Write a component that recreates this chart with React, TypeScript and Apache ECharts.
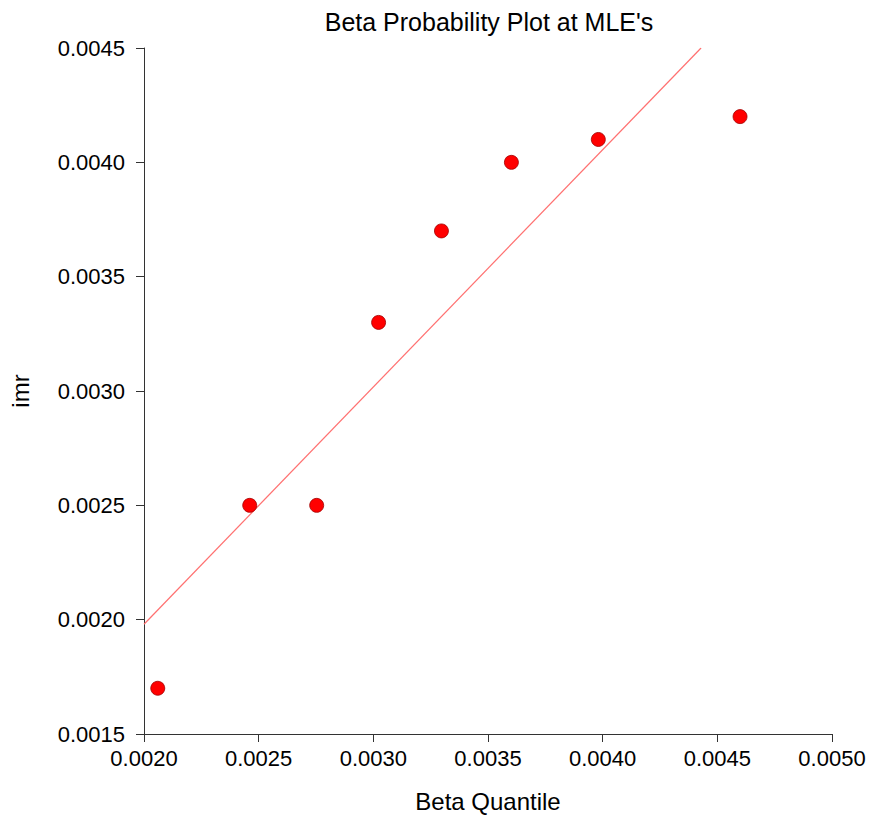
import React, { useEffect, useRef } from "react";
import * as echarts from "echarts";

const quantiles = [0.00206, 0.002461, 0.002753, 0.003023, 0.003297, 0.003602, 0.003981, 0.004599];
const imr = [0.0017, 0.0025, 0.0025, 0.0033, 0.0037, 0.004, 0.0041, 0.0042];
const fitLineX = [0.002, 0.004429];
const fitLineY = [0.00198, 0.0045];

const FONT = "'Liberation Sans', Arial, sans-serif";

export default function App() {
  const ref = useRef<HTMLDivElement>(null);
  useEffect(() => {
    const chart = echarts.init(ref.current!, undefined, { renderer: "svg" });
    chart.setOption({
      animation: false,
      backgroundColor: "#ffffff",
      textStyle: { fontFamily: FONT },
      title: {
        text: "Beta Probability Plot at MLE's",
        left: 484,
        top: 4,
        textAlign: "center",
        textStyle: { fontFamily: FONT, fontSize: 25, fontWeight: "normal", color: "#000" },
      },
      grid: { left: 143, right: 37, top: 48, bottom: 82 },
      xAxis: {
        type: "value",
        min: 0.002,
        max: 0.005,
        interval: 0.0005,
        name: "Beta Quantile",
        nameLocation: "middle",
        nameGap: 55,
        nameTextStyle: { fontFamily: FONT, fontSize: 24, color: "#000" },
        axisLine: { show: true, lineStyle: { color: "#333", width: 1 } },
        axisTick: { show: true, length: 8, inside: false, lineStyle: { color: "#333" } },
        splitLine: { show: false },
        axisLabel: {
          fontFamily: FONT,
          fontSize: 22,
          color: "#000",
          margin: 13,
          formatter: (v: number) => v.toFixed(4),
        },
      },
      yAxis: {
        type: "value",
        min: 0.0015,
        max: 0.0045,
        interval: 0.0005,
        name: "imr",
        nameLocation: "middle",
        nameGap: 112,
        nameRotate: 90,
        nameTextStyle: { fontFamily: FONT, fontSize: 24, color: "#000" },
        axisLine: { show: true, lineStyle: { color: "#333", width: 1 } },
        axisTick: { show: true, length: 8, inside: false, lineStyle: { color: "#333" } },
        splitLine: { show: false },
        axisLabel: {
          fontFamily: FONT,
          fontSize: 22,
          color: "#000",
          margin: 19,
          formatter: (v: number) => v.toFixed(4),
        },
      },
      series: [
        {
          type: "line",
          data: fitLineX.map((x, i) => [x, fitLineY[i]]),
          showSymbol: false,
          symbol: "none",
          lineStyle: { color: "#ff7070", width: 1.2 },
          silent: true,
          z: 1,
        },
        {
          type: "scatter",
          data: quantiles.map((x, i) => [x, imr[i]]),
          symbol: "circle",
          symbolSize: 14,
          itemStyle: { color: "#ff0000", borderColor: "#a00000", borderWidth: 0.8, opacity: 1 },
          z: 2,
        },
      ],
    });
    return () => chart.dispose();
  }, []);
  return (
    <div
      ref={ref}
      style={{ position: "absolute", left: 0, top: 0, width: 869, height: 818 }}
    />
  );
}
